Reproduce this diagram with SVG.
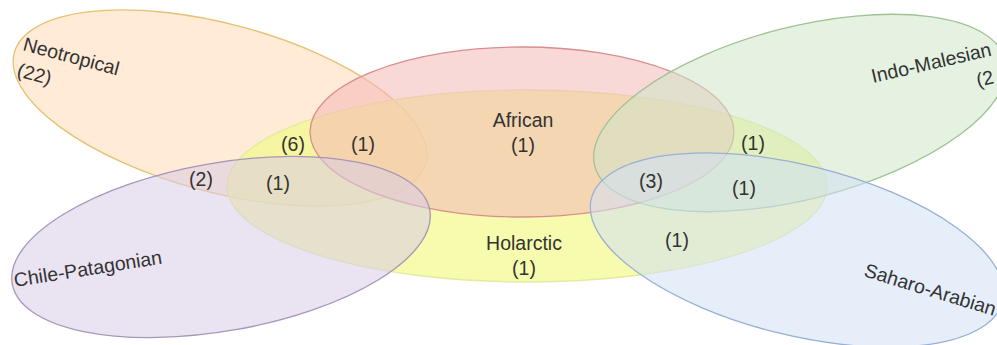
<svg xmlns="http://www.w3.org/2000/svg" width="997" height="345" viewBox="0 0 997 345">
<style>
.set{stroke-width:1.3;}
.lbl{font-family:"Liberation Sans",Arial,sans-serif;font-size:19.5px;fill:#333333;}
.c{text-anchor:middle;}
</style>
<rect width="997" height="345" fill="#ffffff"/>
<g id="neotropical">
<ellipse class="set" cx="220" cy="108" rx="213" ry="84" transform="rotate(15 220 108)" fill="#ffe6cc" fill-opacity="0.8" stroke="#e2c275"/>
</g>
<g id="holarctic">
<ellipse class="set" cx="527" cy="186" rx="300" ry="96" fill="#f2f98a" fill-opacity="0.7" stroke="#e4eaa0"/>
</g>
<g id="african">
<ellipse class="set" cx="522" cy="132" rx="212" ry="85" fill="#f4b8b8" fill-opacity="0.55" stroke="#d88e8e"/>
</g>
<g id="chile-patagonian">
<ellipse class="set" cx="221" cy="247" rx="212" ry="84" transform="rotate(-10 221 247)" fill="#d8cce6" fill-opacity="0.55" stroke="#a896ba"/>
</g>
<g id="indo-malesian">
<ellipse class="set" cx="800" cy="113" rx="212" ry="86" transform="rotate(-14.5 800 113)" fill="#cfe5c8" fill-opacity="0.55" stroke="#a0c292"/>
</g>
<g id="saharo-arabian">
<ellipse class="set" cx="797" cy="250" rx="212" ry="85" transform="rotate(14 797 250)" fill="#d2e0f6" fill-opacity="0.55" stroke="#98b0d4"/>
</g>
<g id="labels">
<text class="lbl" transform="translate(22 50) rotate(15)">Neotropical</text>
<text class="lbl" transform="translate(16 76) rotate(15)">(22)</text>
<text class="lbl" transform="translate(15 287) rotate(-9)">Chile-Patagonian</text>
<text class="lbl" transform="translate(873 83) rotate(-13)">Indo-Malesian</text>
<text class="lbl" transform="translate(978 87) rotate(-13)">(2</text>
<text class="lbl" transform="translate(863 276) rotate(17)">Saharo-Arabian</text>
<text class="lbl c" x="523" y="127">African</text>
<text class="lbl c" x="523" y="152">(1)</text>
<text class="lbl c" x="524" y="250">Holarctic</text>
<text class="lbl c" x="524" y="275">(1)</text>
</g>
<g id="regions">
<text class="lbl c" x="293" y="151">(6)</text>
<text class="lbl c" x="363" y="151">(1)</text>
<text class="lbl c" x="201" y="186">(2)</text>
<text class="lbl c" x="278" y="190">(1)</text>
<text class="lbl c" x="753" y="150">(1)</text>
<text class="lbl c" x="651" y="188">(3)</text>
<text class="lbl c" x="744" y="195">(1)</text>
<text class="lbl c" x="677" y="247">(1)</text>
</g>
</svg>
